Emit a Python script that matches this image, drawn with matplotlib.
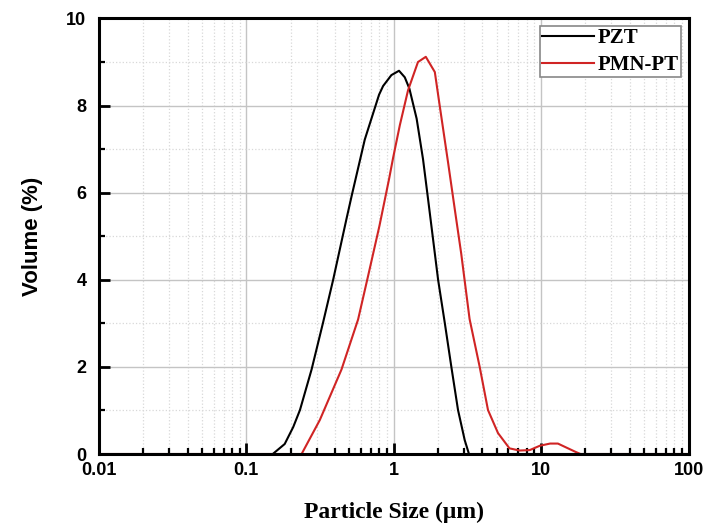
import numpy as np
import matplotlib.pyplot as plt
from matplotlib.ticker import FixedLocator, LogLocator, NullFormatter

# particle size distributions (size in um, volume %)
pzt_size = [0.01, 0.151, 0.182, 0.208, 0.231, 0.277, 0.331, 0.388, 0.478, 0.52,
            0.636, 0.795, 0.847, 0.964, 1.086, 1.188, 1.277, 1.43, 1.58, 1.71,
            2.0, 2.22, 2.46, 2.73, 3.03, 3.24, 100]
pzt_vol = [0, 0, 0.23, 0.62, 1.01, 1.94, 3.01, 4.0, 5.4, 5.95,
           7.22, 8.25, 8.45, 8.7, 8.8, 8.65, 8.39, 7.7, 6.77, 5.85,
           4.0, 3.01, 2.0, 1.01, 0.32, 0, 0]

pmn_size = [0.01, 0.237, 0.315, 0.442, 0.573, 0.67, 0.80, 0.929, 0.99, 1.1,
            1.25, 1.46, 1.65, 1.9, 2.05, 2.34, 2.6, 2.87, 3.27, 3.83,
            4.36, 5.1, 6.1, 7.15, 8.37, 9.8, 11.5, 13.0, 14.8, 17.1,
            18.5, 100]
pmn_vol = [0, 0, 0.78, 1.94, 3.09, 4.09, 5.24, 6.31, 6.8, 7.55,
           8.35, 9.0, 9.12, 8.77, 8.0, 6.68, 5.6, 4.6, 3.1, 2.0,
           1.01, 0.48, 0.13, 0.08, 0.09, 0.19, 0.24, 0.24, 0.15, 0.05,
           0, 0]

fig = plt.figure(figsize=(7.05, 5.25), dpi=100)
ax = fig.add_axes([0.1404, 0.1352, 0.8362, 0.8296])

ax.plot(pzt_size, pzt_vol, color="black", lw=1.5, label="PZT")
ax.plot(pmn_size, pmn_vol, color="#d02424", lw=1.5, label="PMN-PT")

ax.set_xscale("log")
ax.set_xlim(0.01, 100)
ax.set_ylim(0, 10)
ax.set_xticks([0.01, 0.1, 1, 10, 100])
ax.set_xticklabels(["0.01", "0.1", "1", "10", "100"])
ax.xaxis.set_minor_locator(LogLocator(base=10, subs=np.arange(2, 10)))
ax.xaxis.set_minor_formatter(NullFormatter())
ax.set_yticks([0, 2, 4, 6, 8, 10])
ax.yaxis.set_minor_locator(FixedLocator([1, 3, 5, 7, 9]))

ax.grid(which="major", color="#c4c4c4", lw=1.0, ls="-")
ax.grid(which="minor", color="#d8d8d8", lw=0.9, ls=":")
ax.set_axisbelow(True)

ax.tick_params(axis="y", which="major", pad=9)
ax.tick_params(axis="x", which="major", pad=6)
ax.tick_params(which="major", direction="in", length=8, width=2,
               top=False, right=False, labelsize=13)
ax.tick_params(which="minor", direction="in", length=4, width=1.6,
               top=False, right=False)
for lab in ax.get_xticklabels() + ax.get_yticklabels():
    lab.set_fontweight("bold")
    lab.set_family("Liberation Sans")
for sp in ax.spines.values():
    sp.set_linewidth(2.2)

ax.set_ylabel("Volume (%)", fontsize=16, fontweight="bold",
              family="Liberation Sans", labelpad=17)
ax.set_xlabel("Particle Size (\u03bcm)", fontsize=17, fontweight="bold",
              family="Liberation Serif", labelpad=16)

leg = ax.legend(loc="upper right", prop={"family": "Liberation Serif",
                                         "weight": "bold", "size": 15},
                fancybox=False, edgecolor="#888888", framealpha=1,
                handlelength=2.5, handletextpad=0.2, borderaxespad=0.35,
                borderpad=0.1, labelspacing=0.35)
leg.get_frame().set_linewidth(1.2)

fig.savefig("out.png", dpi=100)
